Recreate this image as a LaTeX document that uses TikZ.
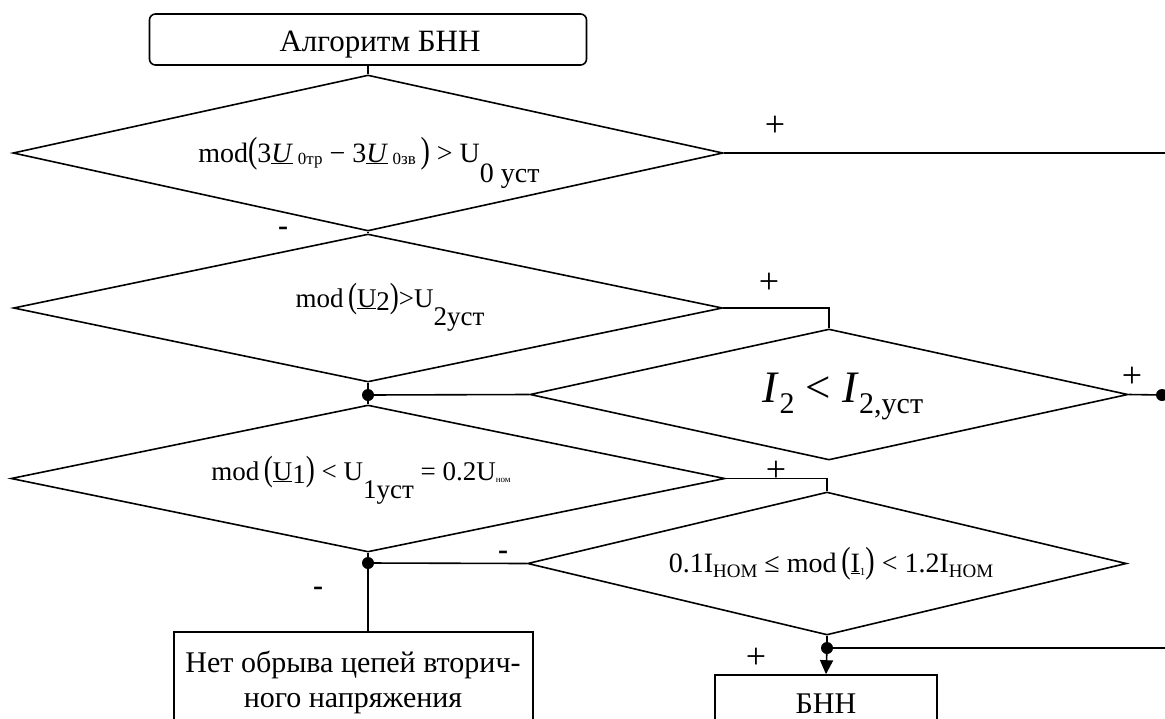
\documentclass[tikz,border=0pt]{standalone}
\usepackage{fontspec}
\setmainfont{Liberation Serif}
\usepackage{graphicx}
\usetikzlibrary{shapes.geometric,arrows.meta}
\newcommand{\dn}[2]{\raisebox{-#1pt}{#2}}
\newcommand{\fs}[1]{\fontsize{#1pt}{#1pt}\selectfont}
\newcommand{\bp}[1]{\scalebox{1}[1.3]{#1}}
\begin{document}
\begin{tikzpicture}[x=1pt,y=-1pt,line width=1.6pt,
  dia/.style 2 args={draw,shape=diamond,inner sep=0pt,minimum width=#1,minimum height=#2},
  rbox/.style 2 args={draw,rectangle,rounded corners=6pt,inner sep=0pt,minimum width=#1,minimum height=#2},
  pbox/.style 2 args={draw,rectangle,inner sep=0pt,minimum width=#1,minimum height=#2},
  txt/.style={inner sep=0pt,anchor=base},
  dot/.style={circle,fill=black,inner sep=0pt,minimum size=12pt},
  lbl/.style={inner sep=0pt,font={\fs{36}}},
  mlbl/.style={inner sep=0pt,font={\fs{30}\bfseries}},
  arr/.style={-{Triangle[length=14pt,width=13pt]}}]
\clip (0,0) rectangle (1165,718);
% shapes
\node[rbox={437pt}{51pt}] (start) at (368,39.5) {};
\node[dia={710pt}{156pt}] (d1) at (368,153) {};
\node[dia={709pt}{148pt}] (d2) at (368,308) {};
\node[dia={598pt}{131pt}] (di) at (829,394.5) {};
\node[dia={714pt}{147pt}] (d3) at (368,478.5) {};
\node[dia={599pt}{143pt}] (d4) at (827,563.5) {};
\node[pbox={359pt}{130pt}] (b1) at (353.5,697) {};
\node[pbox={222pt}{90pt}] (b2) at (826,720) {};
% junctions
\node[dot] (j1) at (368,395) {};
\node[dot] (j2) at (1162,395) {};
\node[dot] (j3) at (368,563) {};
\node[dot] (j4) at (827,648) {};
\coordinate (r1) at (1170,153);
\coordinate (r4) at (1170,648);
% texts
\node[txt,font={\fs{31}}] (tstart) at (380,51) {Алгоритм БНН};
\node[txt,font={\fs{28}}] (t1) at (369,162) {mod\bp{(}3\underline{\textit{U}}\,\dn{2}{\fs{17}0тр} − 3\underline{\textit{U}}\,\dn{2}{\fs{17}0зв}\,\bp{)} > U\dn{20}{0 уст}};
\node[txt,font={\fs{27}}] (t2) at (390,307) {mod\,\bp{(}\underline{U}\dn{3}{2}\bp{)}>U\dn{18}{2уст}};
\node[txt,font={\fs{45}}] (ti) at (843,402) {\textit{I}\dn{11}{\fs{30}2} < \textit{I}\dn{11}{\fs{30}2,уст}};
\node[txt,font={\fs{27}}] (t3) at (361,480) {mod\,\bp{(}\underline{U}\dn{3}{1}\bp{)} < U\dn{18}{1уст} = 0.2U\dn{2}{\fs{9}ном}};
\node[txt,font={\fs{28}}] (t4) at (831,572) {0.1I\dn{5}{\fs{19}НОМ} ≤ mod\,\bp{(}\underline{I}\dn{3}{\fs{11}1}\bp{)} < 1.2I\dn{5}{\fs{19}НОМ}};
\node[txt,font={\fs{30}},align=center] (tb1) at (353,707) {Нет обрыва цепей вторич-\\[5pt]ного напряжения};
\node[txt,font={\fs{30}}] (tb2) at (826,713) {БНН};
% labels
\node[lbl] (p1) at (775,126) {+};
\node[lbl] (p2) at (769,283) {+};
\node[lbl] (p3) at (1132,377) {+};
\node[lbl] (p4) at (776,471) {+};
\node[lbl] (p5) at (756,658) {+};
\node[mlbl] (m1) at (283,231) {-};
\node[mlbl] (m2) at (503,555) {-};
\node[mlbl] (m3) at (318,591) {-};
% connectors
\draw (start.south) -- (d1.north);
\draw (d1.east) -- (r1);
\draw (d1.south) -- (d2.north);
\draw (d2.east) -| (di.north);
\draw (d2.south) -- (j1.center);
\draw (j1.center) -- (di.west);
\draw (j1.center) -- (d3.north);
\draw (di.east) -- (j2.center);
\draw (d3.east) -| (d4.north);
\draw (d3.south) -- (j3.center);
\draw (j3.center) -- (d4.west);
\draw (j3.center) -- (j3 |- b1.north);
\draw (d4.south) -- (j4.center);
\draw[arr] (j4.center) -- (b2.north);
\draw (j4.center) -- (r4);
\end{tikzpicture}
\end{document}
